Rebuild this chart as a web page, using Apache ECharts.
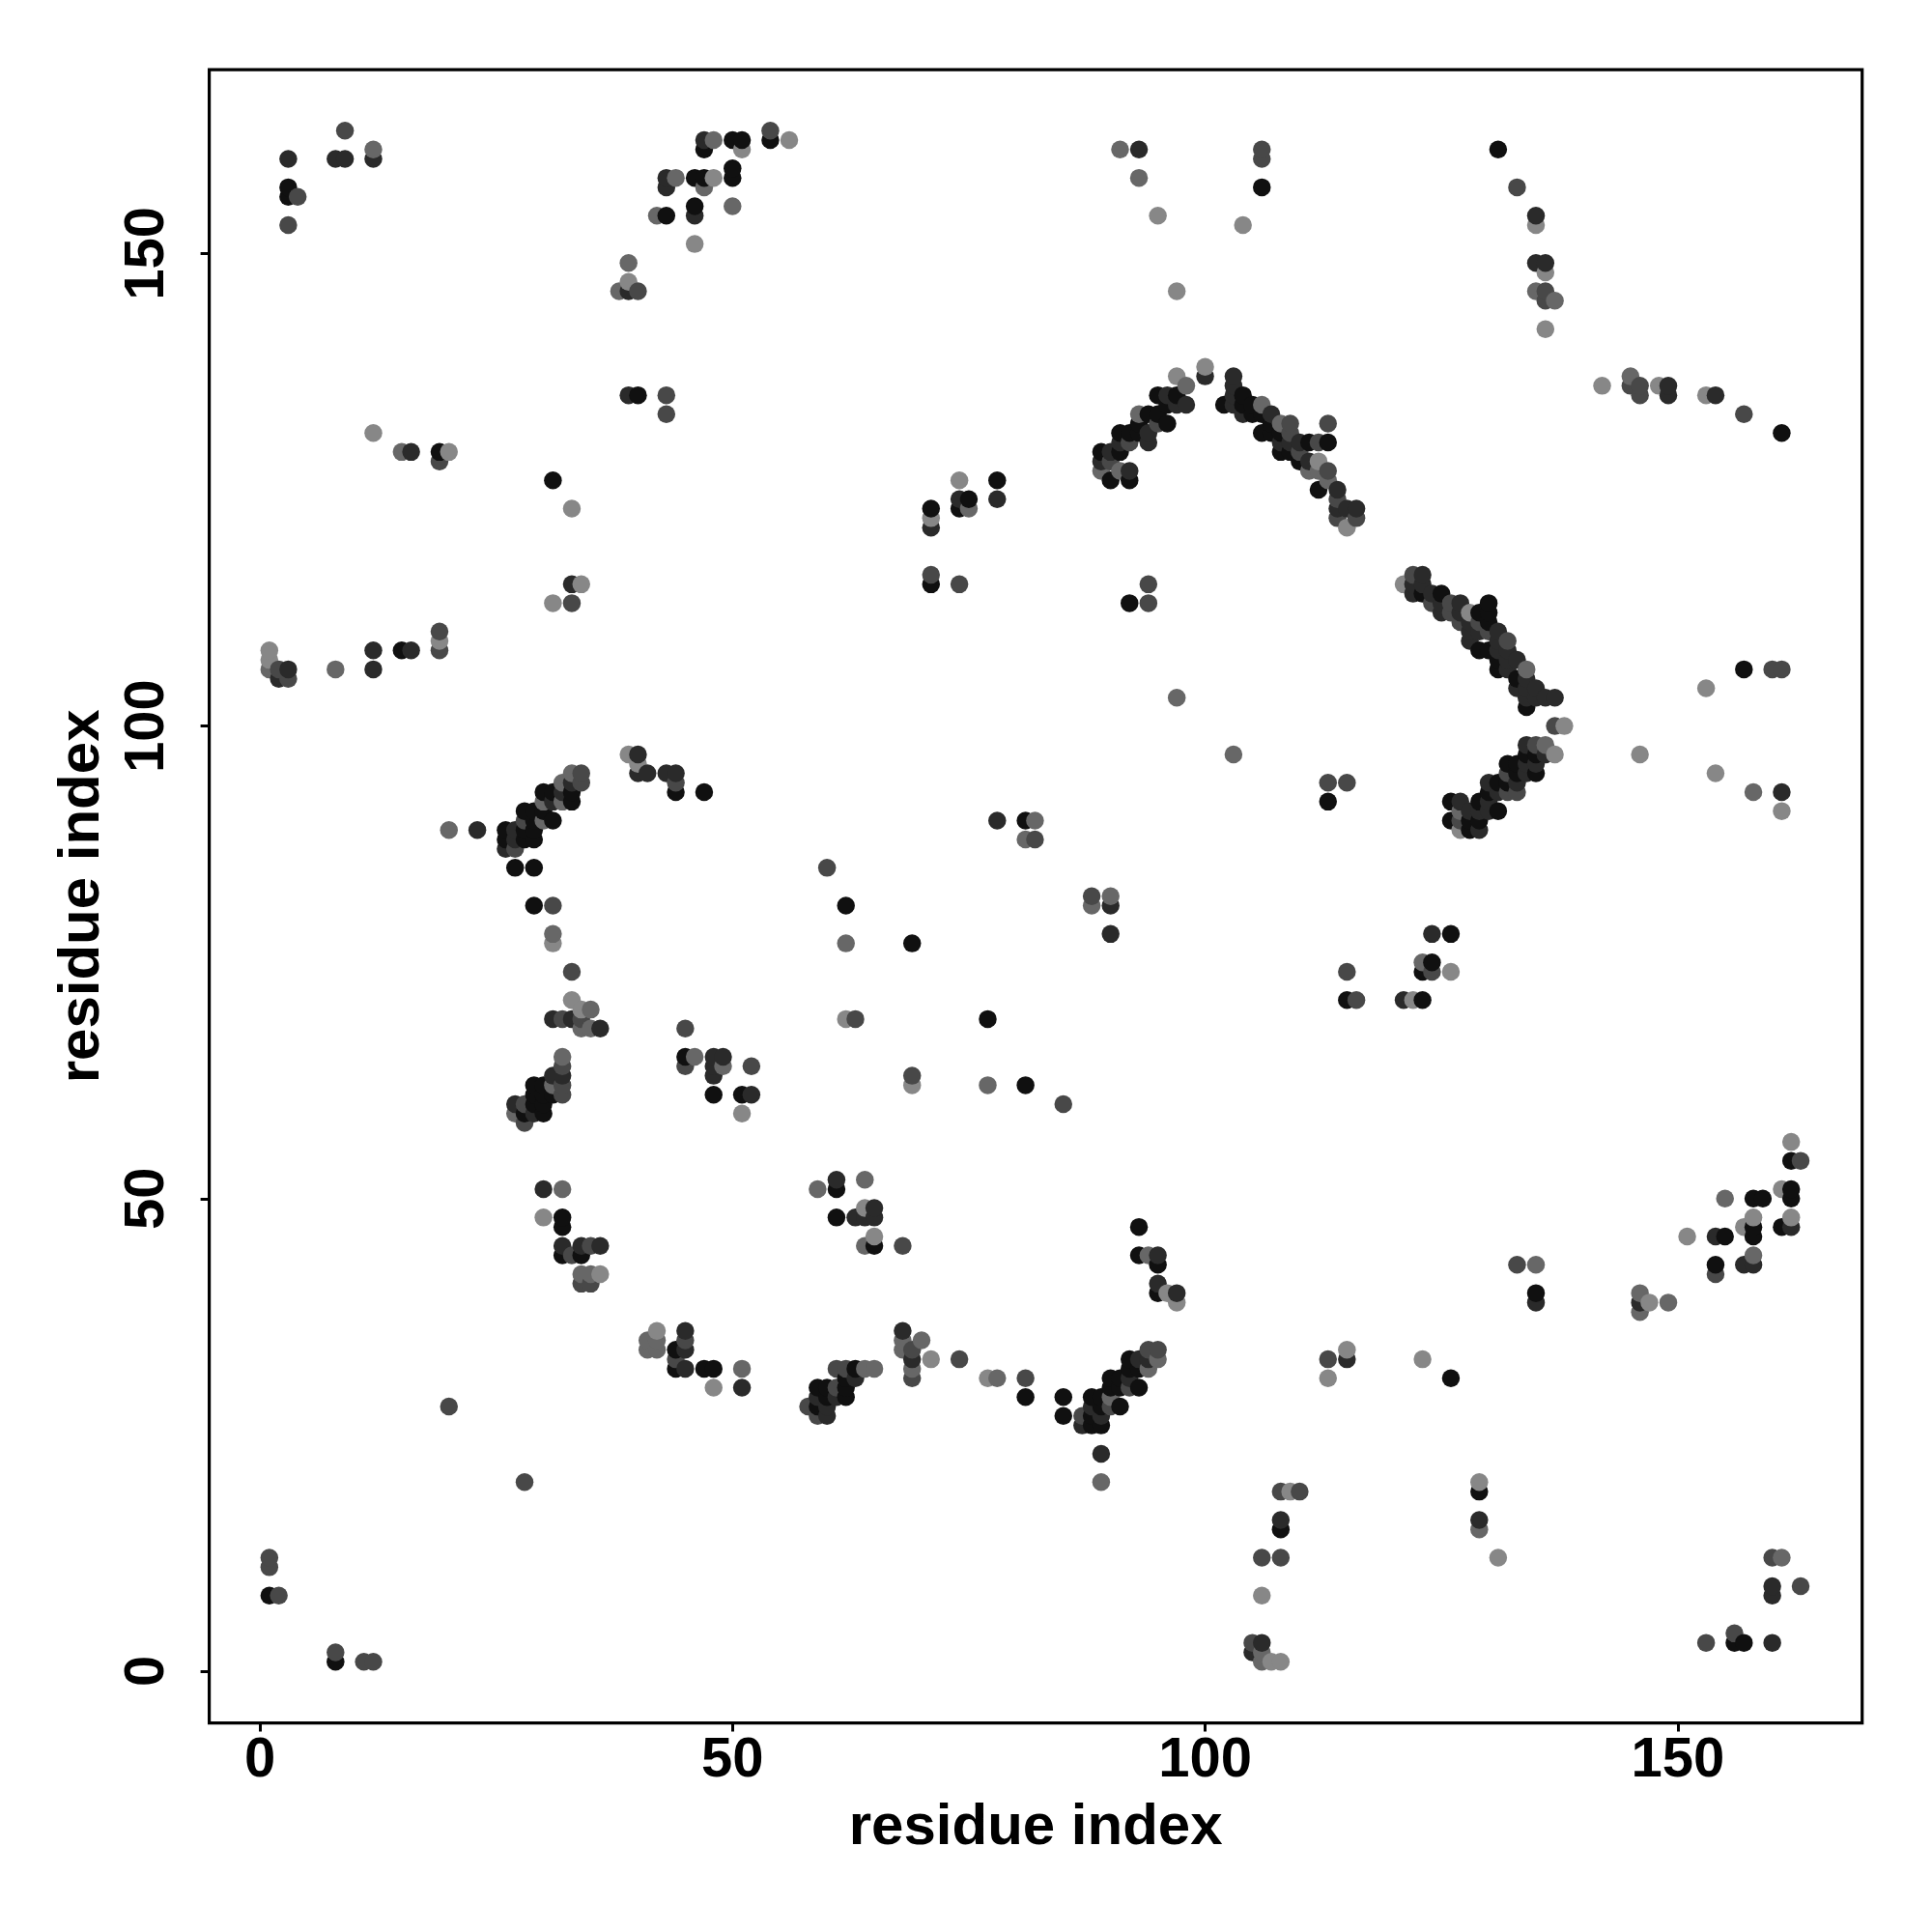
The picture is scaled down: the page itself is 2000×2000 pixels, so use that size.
<!DOCTYPE html>
<html><head><meta charset="utf-8">
<script src="https://cdn.jsdelivr.net/npm/echarts@6/dist/echarts.min.js"></script>
<style>html,body{margin:0;padding:0;background:#fff}#c{width:2000px;height:2000px}</style>
</head><body><div id="c"></div>
<script>
const xTicks = [0, 50, 100, 150];
const yTicks = [0, 50, 100, 150];
const xTitle = 'residue index';
const yTitle = 'residue index';

// contacts [i, j] grouped by shade (darkest first)
const shadeBlack = [
[3,157],[3,156],[19,129],[31,126],
[47,161],[50,162],[51,162],[54,162],[46,158],[47,158],[50,159],[50,158],[43,154],[46,155],[40,135],[71,123],[75,124],[74,123],[78,126],[71,115],
[106,157],[92,113],
[97,135],[96,134],[95,135],[96,132],[95,133],[94,133],[93,132],[93,131],[92,131],[91,131],[91,129],[89,129],[90,126],[92,126],
[102,134],[104,135],[104,134],[105,134],[105,133],[106,133],[106,131],[107,132],[107,131],[108,131],[108,129],[109,129],[110,128],[111,130],[113,130],[112,125],
[131,161],[161,131],
[123,114],[125,114],[129,112],[130,113],[130,112],[130,111],[129,108],[130,108],[131,107],[131,106],[133,105],[134,102],
[135,97],[134,97],[133,96],[132,96],[135,95],[133,95],[132,94],[131,94],[130,93],[129,92],[131,91],[126,92],[126,90],[128,90],[129,90],[128,89],
[15,108],[33,93],[33,92],[30,93],[31,93],[28,91],[29,91],[30,91],[29,90],[31,90],[26,89],[28,89],[29,89],[26,88],[28,88],[29,88],[27,85],[29,85],[29,81],[31,61],[30,62],[29,62],[29,61],[30,61],[29,60],[30,59],[28,59],[30,60],
[44,93],[47,93],[81,90],[62,81],[69,77],[77,69],[45,65],[48,61],[51,61],[81,62],
[113,92],[115,71],[123,71],[124,75],[123,74],[126,78],
[157,106],[162,54],
[32,48],[32,47],[32,44],[34,44],[1,8],[8,1],
[61,51],[61,48],[65,45],[44,34],[44,32],[47,32],[48,32],[63,32],[59,30],[60,30],[62,30],[62,31],[60,29],[62,29],[59,28],[81,29],
[93,47],[93,44],[95,43],[95,40],[92,33],[93,32],[90,31],[91,31],[93,30],[92,32],[88,29],[89,29],[90,30],[91,30],[91,28],[88,27],[88,26],[89,26],[89,28],[85,29],[85,27],[126,31],[108,15],
[162,51],[162,50],[158,50],[159,50],[158,47],[158,46],[161,47],[155,46],[154,43],[135,40],[129,19],[156,3],[157,3]
];
const shadeDark = [
[3,160],[8,160],[9,160],[12,160],[16,129],[33,115],
[47,162],[43,158],[43,157],[46,154],[39,146],[39,135],[71,121],[74,124],[78,124],
[93,161],[100,137],
[96,135],[98,134],[97,134],[94,131],[91,130],[90,129],[89,128],[92,127],[94,130],
[103,137],[103,136],[103,135],[103,134],[104,133],[107,133],[108,130],[109,130],[110,130],[111,128],[114,125],[114,123],[115,123],[116,123],
[135,154],[135,149],[136,149],[149,136],[149,135],[154,135],
[122,115],[123,115],[122,114],[123,116],[124,114],[125,113],[127,113],[125,112],[127,112],[128,111],[128,110],[129,110],[131,110],[128,109],[131,109],[131,108],[132,108],[132,107],[133,107],[132,106],[134,105],[133,104],[134,104],[135,104],[134,103],[135,103],[136,103],[137,103],
[134,98],[136,97],[135,96],[134,96],[134,95],[133,94],[130,94],[131,93],[130,92],[130,91],[129,91],[128,91],[127,92],[129,89],
[12,108],[12,106],[16,108],[3,106],[2,105],[23,89],[33,94],[32,93],[31,92],[27,89],[27,88],[26,87],[31,69],[33,69],[36,68],[32,63],[31,63],[27,60],[29,59],
[40,97],[40,95],[41,95],[43,95],[44,95],[78,90],[48,65],[49,65],[48,64],[48,63],[52,61],
[90,81],[90,78],[121,71],[124,78],
[161,93],
[30,51],[32,45],[34,45],[36,45],
[61,52],[63,48],[65,49],[65,48],[64,48],[45,36],[45,34],[45,32],[51,30],[63,31],[59,29],[61,29],[60,28],[60,27],[68,36],[69,33],
[95,44],[95,41],[97,40],[93,33],[94,33],[92,31],[89,27],[87,26],[88,28],[89,23],[115,33],[108,16],[106,3],[105,2],
[162,47],[154,46],[157,43],[158,43],[135,39],[146,39],[129,16],[160,9],[160,8],[160,3]
];
const shadeDarkMid = [
[9,163],[4,156],[3,153],[19,128],[33,113],
[54,163],[40,146],[43,135],[43,133],[71,116],[74,115],
[106,161],[106,160],[94,115],[94,113],
[95,132],[92,130],[90,128],
[109,132],[109,131],[110,129],[112,130],[113,132],[113,127],[114,122],[116,122],[114,124],
[133,157],[136,146],[136,145],[145,136],[146,136],[146,135],[157,133],
[122,116],[124,113],[126,113],[126,112],[127,111],[129,111],[130,110],[132,109],
[137,100],[135,98],[132,95],[133,93],[132,93],[127,90],
[2,106],[3,105],[19,110],[19,108],[34,95],[34,94],[28,90],[27,87],[31,81],[33,74],[32,69],[34,69],[32,64],[32,62],[32,61],[28,60],[28,58],
[44,94],[82,88],[60,85],[63,69],[45,68],[45,64],[52,64],[69,63],
[113,94],[115,94],[88,82],[115,74],[116,71],[124,74],[85,60],
[160,106],[161,106],[163,54],
[33,44],[35,45],[34,41],[35,41],[20,28],[28,20],[1,12],[1,11],[2,8],[8,2],[11,1],[12,1],
[68,45],[45,35],[44,33],[61,32],[62,32],[61,30],[58,28],[59,27],[69,34],[69,31],[74,33],[81,31],
[95,34],[94,34],[92,30],[87,27],[90,28],[113,33],[108,19],[110,19],[106,12],[108,12],[105,3],
[154,42],[133,43],[160,12],[163,9],[153,3],[156,4]
];
const shadeMid = [
[12,161],[15,129],
[48,162],[44,158],[47,157],[50,155],[42,154],[39,149],[38,146],[75,123],
[91,161],[93,158],
[98,136],[89,127],[91,127],[93,133],
[106,134],[108,132],[111,127],[112,127],[113,126],
[135,146],[137,145],[145,137],
[134,106],
[136,98],[127,91],
[1,106],[8,106],[20,89],[33,95],[32,94],[30,92],[32,92],[30,90],[31,78],[35,70],[34,68],[35,68],[32,65],[31,62],[27,59],
[82,90],[81,88],[62,77],[46,65],[49,64],[77,62],
[97,103],[103,97],[88,81],[90,82],[123,75],
[158,93],
[32,51],[34,42],[35,42],
[59,51],[64,52],[64,45],[41,35],[41,34],[42,34],[42,35],[51,32],[64,32],[65,32],[68,35],[68,34],[69,32],[70,35],[78,31],
[94,44],[95,33],[94,32],[90,29],[89,20],[106,1],[106,2],
[155,50],[158,44],[135,43],[146,40],[146,38],[149,39],[129,15],[161,12]
];
const shadeLight = [
[12,131],[20,129],[33,123],[34,115],[31,113],
[51,161],[56,162],[48,158],[46,151],[39,147],[74,126],[71,122],
[95,154],[97,146],[104,153],[100,138],
[97,137],
[112,128],[115,121],
[135,153],[136,148],[136,142],[142,136],[148,136],[153,135],
[121,115],[128,112],
[138,100],[137,97],[127,89],
[1,108],[1,107],[19,109],[31,77],[33,71],[34,70],
[39,97],[40,96],[62,69],[51,59],[69,62],
[122,71],[126,74],
[146,97],[153,104],[154,95],[161,91],[162,56],
[30,48],[36,42],
[64,49],[65,46],[42,36],[48,30],[71,33],[77,31],
[96,40],[97,39],[113,31],[115,34],[123,33],[109,19],[106,8],[107,1],[108,1],
[161,51],[157,47],[158,48],[162,48],[151,46],[147,39],[129,20],[131,12]
];

const shadeColors = ['#101010', '#2a2a2a', '#484848', '#676767', '#878787'];
const groups = [shadeBlack, shadeDark, shadeDarkMid, shadeMid, shadeLight];

let pts = [];
groups.forEach((g, k) => g.forEach(p => pts.push({ value: [p[0], p[1]], itemStyle: { color: shadeColors[k] } })));
pts.sort((a, b) => (a.value[0] - b.value[0]) || (a.value[1] - b.value[1]));

const fontFam = "'Liberation Sans', Arial, Helvetica, sans-serif";
const chart = echarts.init(document.getElementById('c'), null, { renderer: 'canvas' });
chart.setOption({
  animation: false,
  backgroundColor: '#ffffff',
  grid: { left: 216.6, right: 72.3, top: 72.2, bottom: 216.4, show: true, borderColor: '#000', borderWidth: 3.2, backgroundColor: 'transparent' },
  xAxis: {
    type: 'value', min: -5.36, max: 169.51,
    name: xTitle, nameLocation: 'middle', nameGap: 79,
    nameTextStyle: { fontFamily: fontFam, fontWeight: 'bold', fontSize: 60, color: '#000' },
    axisLine: { show: false, onZero: false },
    axisTick: { show: true, customValues: xTicks, length: 9, lineStyle: { color: '#000', width: 3 } },
    axisLabel: { customValues: xTicks, margin: 10, fontFamily: fontFam, fontWeight: 'bold', fontSize: 58, color: '#000' },
    splitLine: { show: false }
  },
  yAxis: {
    type: 'value', min: -5.48, max: 169.44,
    name: yTitle, nameLocation: 'middle', nameGap: 101,
    nameTextStyle: { fontFamily: fontFam, fontWeight: 'bold', fontSize: 60, color: '#000' },
    axisLine: { show: false, onZero: false },
    axisTick: { show: true, customValues: yTicks, length: 9, lineStyle: { color: '#000', width: 3 } },
    axisLabel: { customValues: yTicks, rotate: 90, margin: 35, fontFamily: fontFam, fontWeight: 'bold', fontSize: 58, color: '#000' },
    splitLine: { show: false }
  },
  series: [{
    type: 'scatter', symbol: 'circle', symbolSize: 18.5,
    data: pts, itemStyle: { opacity: 1 }, emphasis: { disabled: true }
  }]
});
</script>
</body></html>
